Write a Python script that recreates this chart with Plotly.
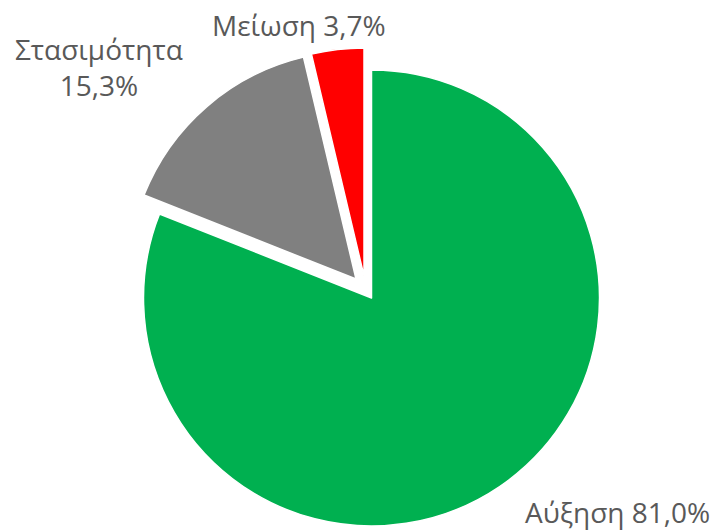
import plotly.graph_objects as go

# Data
labels = ["Αύξηση", "Στασιμότητα", "Μείωση"]
values = [81.0, 15.3, 3.7]
colors = ["#00B050", "#808080", "#FF0000"]

# Layout / style
W, H = 720, 530
R = 228
# pixel centres of each (exploded) slice
centers = [(371.5, 298), (356, 279), (364, 276)]
# pixel centres of the data labels
label_pos = [(617, 512), (99, 67), (299, 25)]
label_sep = [" ", "<br>", " "]

total = sum(values)

fig = go.Figure()
for i, (cx, cy) in enumerate(centers):
    cols = [colors[j] if j == i else "rgba(0,0,0,0)" for j in range(len(values))]
    lw = [1.5 if j == i else 0 for j in range(len(values))]
    fig.add_trace(go.Pie(
        labels=labels,
        values=values,
        sort=False,
        direction="clockwise",
        rotation=0,
        marker=dict(colors=cols, line=dict(color="white", width=lw)),
        textinfo="none",
        showlegend=False,
        hoverinfo="label+percent",
        domain=dict(x=[(cx - R) / W, (cx + R) / W],
                    y=[(H - cy - R) / H, (H - cy + R) / H]),
    ))

annotations = []
for lab, v, (lx, ly), sep in zip(labels, values, label_pos, label_sep):
    pct = f"{v / total * 100:.1f}".replace(".", ",") + "%"
    annotations.append(dict(
        text=f"{lab}{sep}{pct}",
        x=lx / W, y=1 - ly / H, xref="paper", yref="paper",
        xanchor="center", yanchor="middle", showarrow=False,
        font=dict(family="Open Sans", size=28, color="#595959"),
    ))

fig.update_layout(
    width=W, height=H,
    margin=dict(l=0, r=0, t=0, b=0),
    paper_bgcolor="white",
    plot_bgcolor="white",
    annotations=annotations,
)

fig.write_html("out.html", config={"displayModeBar": False},
               post_script="document.body.style.margin='0';")
